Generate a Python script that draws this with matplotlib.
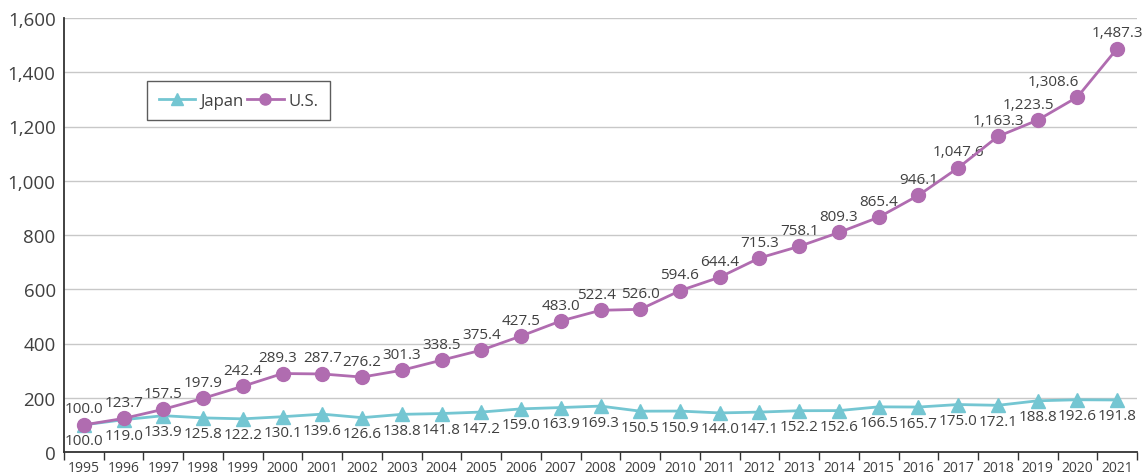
import matplotlib
matplotlib.use("Agg")
import matplotlib.pyplot as plt
import numpy as np

years = [str(y) for y in range(1995, 2022)]
japan = [100.0, 119.0, 133.9, 125.8, 122.2, 130.1, 139.6, 126.6, 138.8, 141.8, 147.2, 159.0,
         163.9, 169.3, 150.5, 150.9, 144.0, 147.1, 152.2, 152.6, 166.5, 165.7, 175.0, 172.1,
         188.8, 192.6, 191.8]
us = [100.0, 123.7, 157.5, 197.9, 242.4, 289.3, 287.7, 276.2, 301.3, 338.5, 375.4, 427.5,
      483.0, 522.4, 526.0, 594.6, 644.4, 715.3, 758.1, 809.3, 865.4, 946.1, 1047.6, 1163.3,
      1223.5, 1308.6, 1487.3]
yticks = [0, 200, 400, 600, 800, 1000, 1200, 1400, 1600]

# horizontal nudges (points) for a few U.S. labels, as in the reference
us_label_dx = {'2000': -3.5, '2008': -3, '2019': -6.5, '2020': -17}

plt.rcParams['font.family'] = ['Open Sans', 'DejaVu Sans']
c_jp = '#74C6D2'
c_us = '#B06CB0'
txt = '#404040'

fig = plt.figure(figsize=(11.46, 4.77), dpi=100)
ax = fig.add_axes([64/1146, 24/477, (1137-64)/1146, (453-19)/477])
x = np.arange(len(years))
ax.plot(x, japan, color=c_jp, lw=2, marker='^', ms=10, label='Japan', zorder=3)
ax.plot(x, us, color=c_us, lw=2, marker='o', ms=10, label='U.S.', zorder=4)

for xi, v in zip(x, japan):
    ax.annotate(f"{v:,.1f}", (xi, v), xytext=(0, -11.5), textcoords='offset points',
                ha='center', va='center', fontsize=11, color=txt)
for xi, yr, v in zip(x, years, us):
    ax.annotate(f"{v:,.1f}", (xi, v), xytext=(us_label_dx.get(yr, 0), 11.5),
                textcoords='offset points', ha='center', va='center', fontsize=11, color=txt)

ax.set_xlim(-0.5, len(years) - 0.5)
ax.set_ylim(0, 1600)
ax.set_yticks(yticks)
ax.set_yticklabels([f"{t:,}" for t in yticks], fontsize=13.5, color=txt)
ax.tick_params(axis='y', length=0, pad=6)
ax.set_xticks(x)
ax.set_xticklabels(years, fontsize=10, color=txt)
ax.tick_params(axis='x', which='major', length=0, pad=6)
ax.set_xticks(np.arange(-0.5, len(years), 1), minor=True)
ax.tick_params(axis='x', which='minor', length=6, width=1, color='#333333', direction='out')
ax.grid(axis='y', color='#c8c8c8', lw=1)
ax.set_axisbelow(True)
for s in ['top', 'right']:
    ax.spines[s].set_visible(False)
for s in ['left', 'bottom']:
    ax.spines[s].set_color('#333333')
    ax.spines[s].set_linewidth(1.3)

leg = ax.legend(loc='upper left', bbox_to_anchor=((147-64)/1073, (453-82)/434), ncol=2,
                frameon=True, fancybox=False, fontsize=12, handlelength=2.2,
                handletextpad=0.3, columnspacing=0.2, borderpad=0.7, markerscale=0.8,
                borderaxespad=0)
leg.get_frame().set_edgecolor('#333333')
leg.get_frame().set_linewidth(1)
for t in leg.get_texts():
    t.set_color(txt)

fig.savefig('out.png', dpi=100)
